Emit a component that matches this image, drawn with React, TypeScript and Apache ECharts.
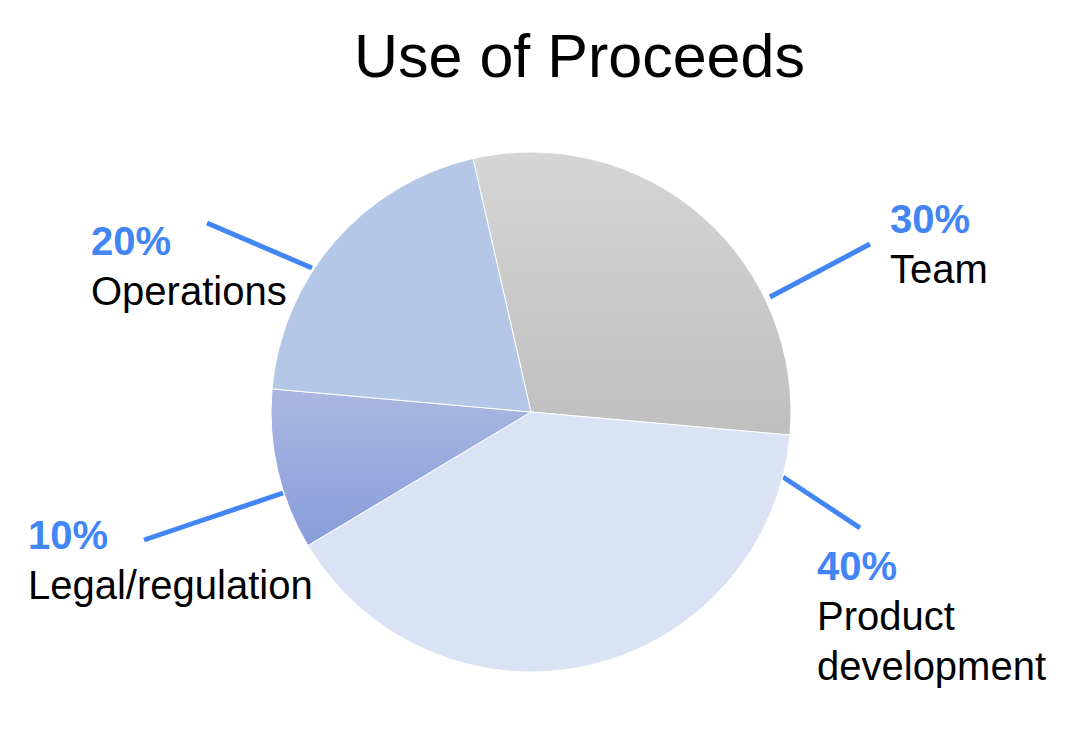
import React, { useEffect, useRef } from "react";
import * as echarts from "echarts";

// ---- data ----
const titleText = "Use of Proceeds";
const categories = ["Team", "Product development", "Legal/regulation", "Operations"];
const shares = [30, 40, 10, 20];

// ---- layout (label block top-left corners and leader lines, in px) ----
const labelPos: [number, number][] = [
  [890, 193.5],
  [817, 540.5],
  [28, 509.5],
  [91, 215.5],
];
const leaderLines: [number, number, number, number][] = [
  [770, 297, 870, 244],
  [783, 477, 860, 528],
  [283, 493, 144, 540],
  [312, 268, 207, 223],
];

const FONT = 'Arial, "Liberation Sans", Helvetica, sans-serif';
const BLUE = "#4285f4";

const sliceColors: any[] = [
  {
    type: "linear", x: 0, y: 0, x2: 0, y2: 1,
    colorStops: [
      { offset: 0, color: "#d5d5d5" },
      { offset: 1, color: "#bfbfbf" },
    ],
  },
  "#dae3f3",
  {
    type: "linear", x: 0, y: 0, x2: 0, y2: 1,
    colorStops: [
      { offset: 0, color: "#abb7e0" },
      { offset: 1, color: "#879ddb" },
    ],
  },
  "#b4c7e7",
];

export default function App() {
  const ref = useRef<HTMLDivElement>(null);
  useEffect(() => {
    if (!ref.current) return;
    const chart = echarts.init(ref.current, undefined, { renderer: "svg" });
    chart.setOption({
      animation: false,
      backgroundColor: "#ffffff",
      title: {
        text: titleText,
        left: 354,
        top: 26,
        padding: 0,
        textStyle: {
          fontSize: 61,
          lineHeight: 60,
          fontWeight: "normal",
          color: "#000000",
          fontFamily: FONT,
        },
      },
      series: [
        {
          type: "pie",
          center: [531, 412],
          radius: 260,
          startAngle: 102.9,
          clockwise: true,
          avoidLabelOverlap: false,
          silent: true,
          itemStyle: { borderColor: "#ffffff", borderWidth: 1 },
          data: categories.map((name, i) => ({
            name,
            value: shares[i],
            itemStyle: { color: sliceColors[i] },
          })),
          label: {
            show: true,
            position: "outside",
            fontFamily: FONT,
            formatter: (p: any) =>
              `{p|${Math.round(p.percent)}%}\n{n|${String(p.name).split(" ").join("\n")}}`,
            rich: {
              p: {
                fontSize: 40,
                lineHeight: 50,
                fontWeight: "bold",
                color: BLUE,
                fontFamily: FONT,
              },
              n: {
                fontSize: 40,
                lineHeight: 50,
                color: "#000000",
                fontFamily: FONT,
              },
            },
          },
          labelLine: {
            show: true,
            length: 10,
            length2: 0,
            lineStyle: { color: BLUE, width: 5, cap: "butt" },
          },
          labelLayout: (params: any) => {
            const i = params.dataIndex;
            const [x1, y1, x2, y2] = leaderLines[i];
            return {
              x: labelPos[i][0],
              y: labelPos[i][1],
              align: "left",
              verticalAlign: "top",
              labelLinePoints: [
                [x1, y1],
                [(x1 + x2) / 2, (y1 + y2) / 2],
                [x2, y2],
              ],
            };
          },
        },
      ],
    });
    return () => chart.dispose();
  }, []);
  return (
    <div
      ref={ref}
      style={{ position: "absolute", left: 0, top: 0, width: 1089, height: 744, background: "#fff" }}
    />
  );
}
